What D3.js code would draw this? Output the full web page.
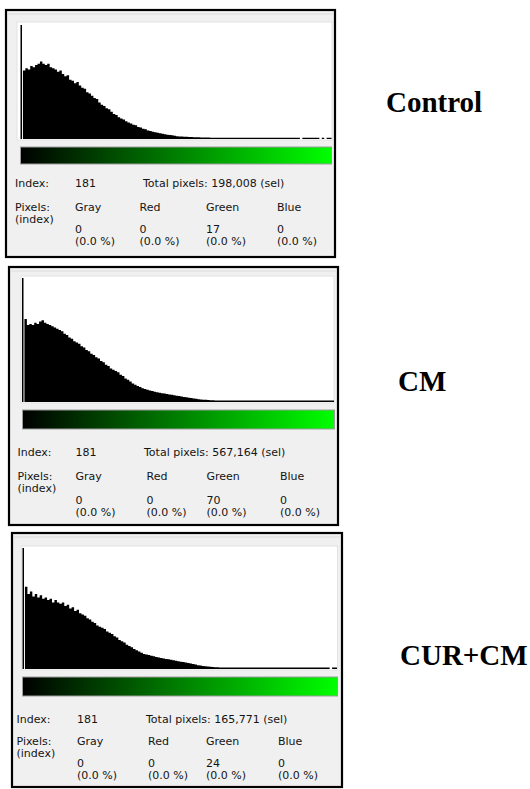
<!DOCTYPE html>
<html>
<head>
<meta charset="utf-8">
<script src="https://cdn.jsdelivr.net/npm/d3@7"></script>
<style>
body { margin: 0; background: #fff; }
svg { display: block; }
</style>
</head>
<body>
<svg width="530" height="789"></svg>
<script>
// histogram data: 128 bins (2 intensity levels each), in % of plot height
var groups = ["Control", "CM", "CUR+CM"];
var indexValue = [181, 181, 181];
var totalPixels = [198008, 567164, 165771];
var channels = ["Gray", "Red", "Green", "Blue"];
var grayCounts = [0, 0, 0];
var redCounts = [0, 0, 0];
var greenCounts = [17, 70, 24];
var blueCounts = [0, 0, 0];

var controlHist = [
  100, 60, 62, 61, 64, 63, 65, 66, 68, 66, 65, 66, 63, 62, 61, 59,
  60, 57, 55, 56, 52, 51, 49, 50, 47, 45, 44, 41, 40, 38, 36, 35,
  32, 30, 29, 27, 26, 24, 22, 21, 19, 18, 17, 15.5, 14.5, 13.5, 12.5, 12,
  10.5, 10, 9, 8.5, 7.5, 7, 6.4, 6, 5.5, 5, 4.6, 4.2, 3.8, 3.5, 3.2, 2.8,
  2.5, 2.3, 2.1, 2, 1.9, 1.8, 1.7, 1.6, 1.5, 1.5, 1.4, 1.4, 1.3, 1.3, 1.2, 1.2,
  1.2, 1.2, 1.2, 1.2, 1.2, 1.2, 1.2, 1.2, 1.2, 1.2, 1.2, 1.2, 1.2, 1.2, 1.2, 1.2,
  1.2, 1.2, 1.2, 1.2, 1.2, 1.2, 1.2, 1.2, 1.2, 1.2, 1.2, 1.2, 1.2, 1.2, 1.2, 1.2,
  1.2, 1.2, 1.2, 0, 1.2, 1.2, 1.2, 1.2, 1.2, 1.2, 1.2, 0, 1.2, 0, 1.2, 1.2
];
var cmHist = [
  100, 67, 62, 63, 62, 64, 63, 65, 66, 64, 63, 62, 61, 60, 59, 58,
  57, 55, 54, 52, 51, 49, 48, 47, 45, 44, 42, 41, 39, 38, 36, 35,
  33, 32, 30, 29, 27, 26, 25, 24, 22, 21, 19, 18, 16.5, 15, 14, 13,
  12, 11, 10.5, 9.8, 9.2, 8.8, 8.3, 7.9, 7.5, 7.1, 6.8, 6.4, 6.1, 5.8, 5.5, 5.1,
  4.8, 4.4, 4.1, 3.8, 3.5, 3.2, 2.9, 2.6, 2.3, 2.1, 1.9, 1.8, 1.7, 1.5, 1.4, 1.3,
  1.2, 1.2, 1.2, 1.2, 1.2, 1.2, 1.2, 1.2, 1.2, 1.2, 1.2, 1.2, 1.2, 1.2, 1.2, 1.2,
  1.2, 1.2, 1.2, 1.2, 1.2, 1.2, 1.2, 1.2, 1.2, 1.2, 1.2, 1.2, 1.2, 1.2, 1.2, 1.2,
  1.2, 1.2, 1.2, 1.2, 1.2, 1.2, 1.2, 1.2, 1.2, 1.2, 1.2, 1.2, 1.2, 1.2, 1.2, 1.2
];
var curCmHist = [
  100, 68, 62, 64, 60, 62, 59, 61, 58, 59, 57, 58, 55, 57, 55, 54,
  55, 52, 53, 50, 51, 48, 49, 46, 45, 44, 42, 41, 39, 38, 36, 35,
  34, 33, 31, 30, 29, 27, 26, 24, 23, 22, 20, 19, 18, 16.5, 15.5, 14.5,
  13.5, 12.5, 12, 11.5, 11, 10.5, 10, 9.5, 9, 8.6, 8.2, 8, 7.6, 7.2, 6.8, 6.4,
  6, 5.7, 5.4, 5, 4.6, 4.2, 3.7, 3.2, 2.8, 2.5, 2.2, 2, 1.8, 1.6, 1.5, 1.4,
  1.2, 1.2, 1.2, 1.2, 1.2, 1.2, 1.2, 1.2, 1.2, 1.2, 1.2, 1.2, 1.2, 1.2, 1.2, 1.2,
  1.2, 1.2, 1.2, 1.2, 1.2, 1.2, 1.2, 1.2, 1.2, 1.2, 1.2, 1.2, 1.2, 1.2, 1.2, 1.2,
  1.2, 1.2, 1.2, 1.2, 1.2, 1.2, 1.2, 1.2, 1.2, 1.2, 1.2, 1.2, 1.2, 0, 1.2, 1.2
];
var histograms = [controlHist, cmHist, curCmHist];

var svg = d3.select("svg");

// screen layout of each histogram window (they were pasted at slightly different sizes)
var panels = [
  { frame: [6, 10, 335, 257], plot: [17, 22, 332, 140], top: 25, data: [20.5, 331.5],
    bar: [20.5, 147, 331.5, 164], cols: [15, 75, 143, 139.5, 206, 277],
    rows: [187, 210.5, 233], label: [386, 112] },
  { frame: [9, 267, 338, 525], plot: [21, 276, 334, 403], top: 278, data: [22, 334],
    bar: [22.5, 410, 334.5, 429], cols: [17.5, 75.5, 144, 146.5, 206.5, 280],
    rows: [455.5, 480, 504], label: [398, 391] },
  { frame: [12, 533, 342, 787], plot: [21.5, 546, 337.5, 670], top: 548, data: [22.5, 337],
    bar: [22.5, 677, 337.5, 696], cols: [16.5, 77, 146, 148, 206, 278],
    rows: [723, 745, 767], label: [400, 665] }
];

var defs = svg.append("defs");
var grad = defs.append("linearGradient")
  .attr("id", "greenRamp")
  .attr("x1", "0%").attr("x2", "100%")
  .attr("y1", "0%").attr("y2", "0%");
grad.append("stop").attr("offset", "0%").attr("stop-color", "#000000");
grad.append("stop").attr("offset", "100%").attr("stop-color", "#00ff00");

var fmt = d3.format(",");
var pctFmt = d3.format(".1f");
var uiFont = "'DejaVu Sans', Verdana, sans-serif";

panels.forEach(function(p, i) {
  var g = svg.append("g");
  var hist = histograms[i];

  g.append("rect")
    .attr("x", p.frame[0])
    .attr("y", p.frame[1])
    .attr("width", p.frame[2] - p.frame[0])
    .attr("height", p.frame[3] - p.frame[1])
    .style("fill", "#f0f0f0")
    .style("stroke", "#000")
    .style("stroke-width", 2.2);

  g.append("line")
    .attr("x1", p.frame[0] + 1).attr("x2", p.frame[2] - 1)
    .attr("y1", p.frame[1] + 4).attr("y2", p.frame[1] + 4)
    .style("stroke", "#dcdcdc");

  // white histogram area
  g.append("rect")
    .attr("x", p.plot[0])
    .attr("y", p.plot[1])
    .attr("width", p.plot[2] - p.plot[0])
    .attr("height", p.plot[3] - p.plot[1])
    .style("fill", "#fff")
    .style("stroke", "#e2e2e2")
    .style("stroke-width", 1);

  var x = d3.scaleLinear()
    .domain([0, hist.length])
    .range([p.data[0], p.data[1]]);

  var y = d3.scaleLinear()
    .domain([0, 100])
    .range([p.plot[3] - 1, p.top]);

  // bins 1.. as one stepped area, last bin closed at the right edge
  var steps = hist.slice(1).map(function(v, j) { return { i: j + 1, v: v }; });
  steps.push({ i: hist.length, v: hist[hist.length - 1] });

  var area = d3.area()
    .curve(d3.curveStepAfter)
    .x(function(d) { return x(d.i); })
    .y0(y(0))
    .y1(function(d) { return y(d.v); });

  g.append("path")
    .datum(steps)
    .attr("d", area)
    .style("fill", "#000");

  // the narrow spike in bin 0
  g.append("rect")
    .attr("x", x(0))
    .attr("width", 1.5)
    .attr("y", y(hist[0]))
    .attr("height", y(0) - y(hist[0]))
    .style("fill", "#000");

  // colour ramp
  g.append("rect")
    .attr("x", p.bar[0])
    .attr("y", p.bar[1])
    .attr("width", p.bar[2] - p.bar[0])
    .attr("height", p.bar[3] - p.bar[1])
    .style("fill", "url(#greenRamp)")
    .style("stroke", "#9c9c9c")
    .style("stroke-width", 1);

  var texts = g.append("g")
    .style("font-family", uiFont)
    .style("font-size", "11px")
    .style("fill", "#141414");

  function put(col, row, str) {
    texts.append("text").attr("x", col).attr("y", row).text(str);
  }

  var counts = [grayCounts[i], redCounts[i], greenCounts[i], blueCounts[i]];
  var chanCols = [p.cols[1], p.cols[3], p.cols[4], p.cols[5]];

  put(p.cols[0], p.rows[0], "Index:");
  put(p.cols[1], p.rows[0], indexValue[i]);
  put(p.cols[2], p.rows[0], "Total pixels: " + fmt(totalPixels[i]) + " (sel)");
  put(p.cols[0], p.rows[1], "Pixels:");
  put(p.cols[0], p.rows[1] + 12.3, "(index)");
  channels.forEach(function(c, k) {
    put(chanCols[k], p.rows[1], c);
    put(chanCols[k], p.rows[2], counts[k]);
    put(chanCols[k], p.rows[2] + 11.8,
      "(" + pctFmt(counts[k] / totalPixels[i] * 100) + " %)");
  });

  svg.append("text")
    .attr("x", p.label[0])
    .attr("y", p.label[1])
    .text(groups[i])
    .style("font-family", "'Liberation Serif', 'Times New Roman', serif")
    .style("font-weight", "bold")
    .style("font-size", "29px")
    .style("fill", "#000");
});
</script>
</body>
</html>
